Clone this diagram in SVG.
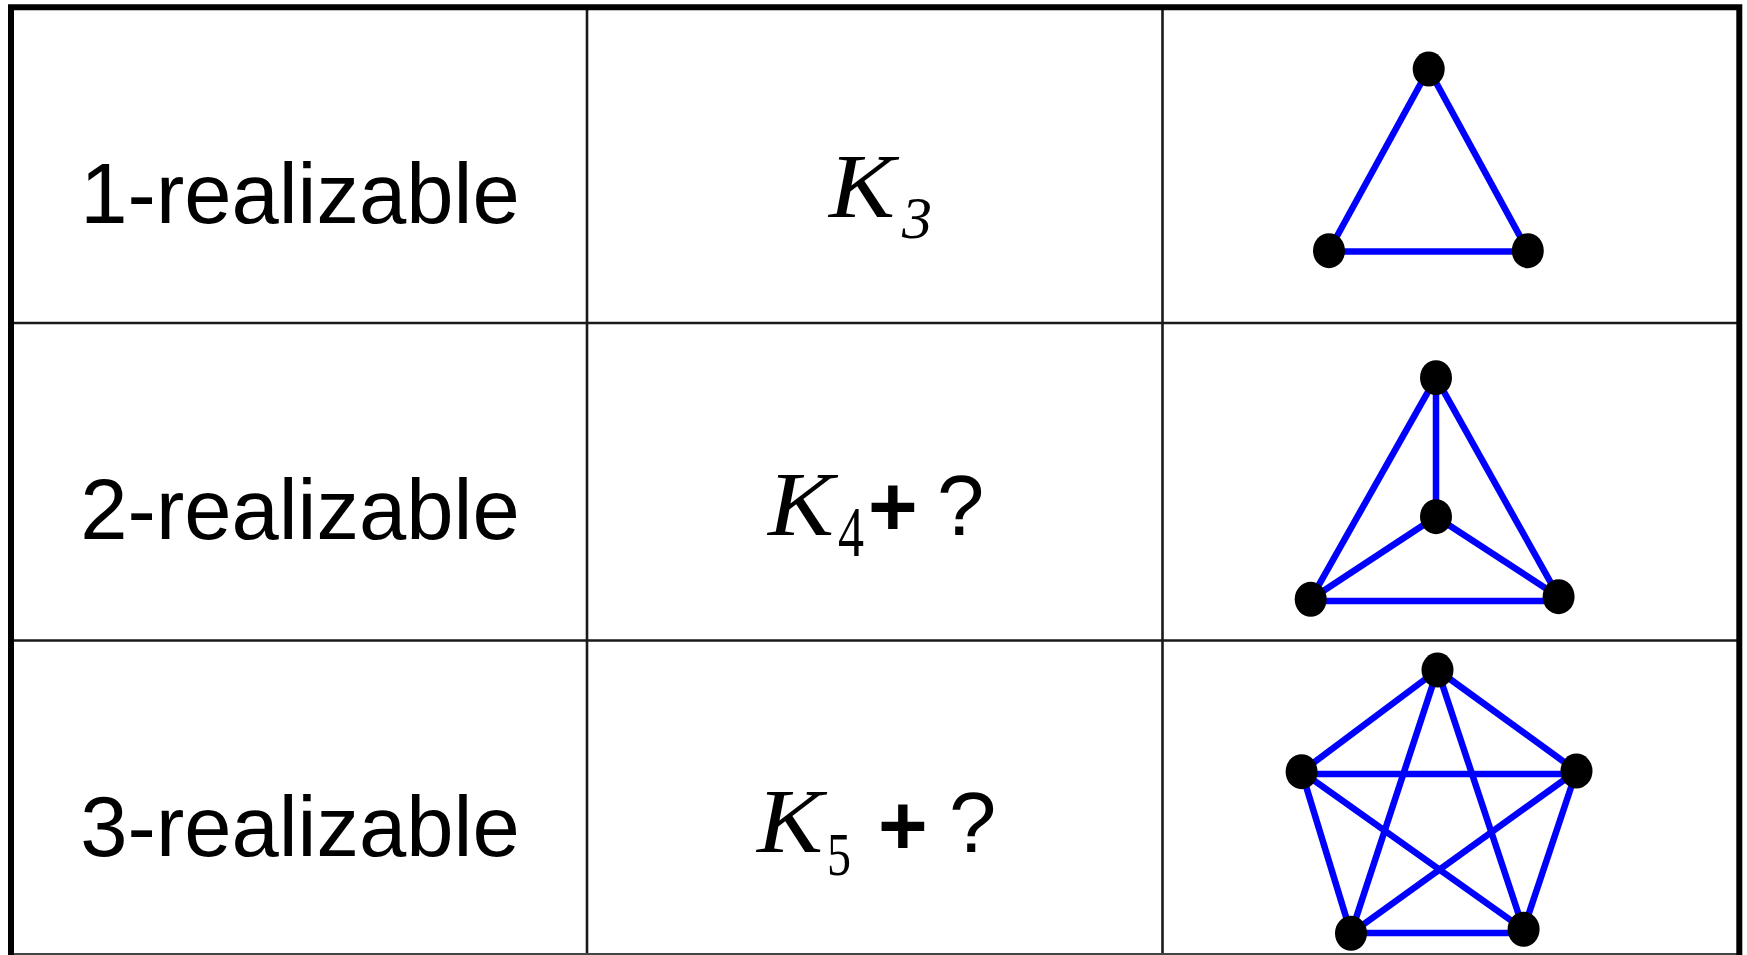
<svg xmlns="http://www.w3.org/2000/svg" width="1747" height="955" viewBox="0 0 1747 955">
<style>
.grid{stroke:#1a1a1a;stroke-width:2.6;fill:none}
.border{stroke:#000;stroke-width:6;fill:none}
.lbl{font-family:"Liberation Sans",Arial,sans-serif;font-size:85px;fill:#000}
.mk{font-family:"Liberation Serif","Times New Roman",serif;font-style:italic;font-size:92px;fill:#000}
.sub{font-family:"Liberation Serif","Times New Roman",serif;fill:#000}
.op{font-family:"Liberation Sans",Arial,sans-serif;font-size:85px;fill:#000}
.plus{font-weight:bold}
.edge{stroke:#0000ff;stroke-width:6.5;fill:none}
.v{fill:#000}
</style>
<rect x="0" y="0" width="1747" height="955" fill="#fff"/>
<g id="table">
  <line class="grid" x1="10" y1="323" x2="1739" y2="323"/>
  <line class="grid" x1="10" y1="640.5" x2="1739" y2="640.5"/>
  <line class="grid" x1="587" y1="7" x2="587" y2="955"/>
  <line class="grid" x1="1162.5" y1="7" x2="1162.5" y2="955"/>
  <line stroke="#444" stroke-width="2" x1="10" y1="954" x2="1739" y2="954"/>
  <path class="border" d="M11,955 V7.2 H1739.3 V955"/>
</g>
<g id="labels">
  <text class="lbl" x="300" y="223" text-anchor="middle">1-realizable</text>
  <text class="lbl" x="300" y="539" text-anchor="middle">2-realizable</text>
  <text class="lbl" x="300" y="856" text-anchor="middle">3-realizable</text>
</g>
<g id="formulas">
  <g id="f1">
    <text font-family="Liberation Serif, serif"><tspan class="mk" x="829" y="217" textLength="66" lengthAdjust="spacingAndGlyphs">K</tspan><tspan class="sub" font-style="italic" font-size="59" x="902" y="238" textLength="30" lengthAdjust="spacingAndGlyphs">3</tspan></text>
  </g>
  <g id="f2">
    <text font-family="Liberation Serif, serif"><tspan class="mk" x="768" y="535" textLength="66" lengthAdjust="spacingAndGlyphs">K</tspan><tspan class="sub" font-size="72" x="838" y="556" textLength="26" lengthAdjust="spacingAndGlyphs">4</tspan><tspan class="op plus" x="868" y="536">+</tspan><tspan class="op" x="937" y="535">?</tspan></text>
  </g>
  <g id="f3">
    <text font-family="Liberation Serif, serif"><tspan class="mk" x="757" y="852" textLength="66" lengthAdjust="spacingAndGlyphs">K</tspan><tspan class="sub" font-size="62" x="827" y="875" textLength="24" lengthAdjust="spacingAndGlyphs">5</tspan><tspan class="op plus" x="878" y="855">+</tspan><tspan class="op" x="949" y="852">?</tspan></text>
  </g>
</g>
<g id="connectors">
  <line class="edge" x1="1428.7" y1="69" x2="1329" y2="250.7"/>
  <line class="edge" x1="1428.7" y1="69" x2="1527.8" y2="250.7"/>
  <line class="edge" x1="1329" y1="251.5" x2="1527.8" y2="251.5"/>

  <line class="edge" x1="1436" y1="377.7" x2="1310.7" y2="599.3"/>
  <line class="edge" x1="1436" y1="377.7" x2="1558.6" y2="596.7"/>
  <line class="edge" x1="1436" y1="377.7" x2="1436" y2="516.7"/>
  <line class="edge" x1="1436" y1="516.7" x2="1310.7" y2="599.3"/>
  <line class="edge" x1="1436" y1="516.7" x2="1558.6" y2="596.7"/>
  <line class="edge" x1="1310.7" y1="601" x2="1558.6" y2="601"/>

  <line class="edge" x1="1437.5" y1="670" x2="1301.6" y2="771.7"/>
  <line class="edge" x1="1437.5" y1="670" x2="1576.5" y2="771"/>
  <line class="edge" x1="1437.5" y1="670" x2="1351" y2="933.3"/>
  <line class="edge" x1="1437.5" y1="670" x2="1523.6" y2="929.3"/>
  <line class="edge" x1="1301.6" y1="774" x2="1576.5" y2="774"/>
  <line class="edge" x1="1301.6" y1="771.7" x2="1523.6" y2="929.3"/>
  <line class="edge" x1="1301.6" y1="771.7" x2="1351" y2="933.3"/>
  <line class="edge" x1="1576.5" y1="771" x2="1351" y2="933.3"/>
  <line class="edge" x1="1576.5" y1="771" x2="1523.6" y2="929.3"/>
  <line class="edge" x1="1351" y1="933" x2="1523.6" y2="933"/>
</g>
<g id="k3-a"><ellipse class="v" cx="1428.7" cy="69" rx="16" ry="17.5"/></g>
<g id="k3-b"><ellipse class="v" cx="1329" cy="250.7" rx="16" ry="17.5"/></g>
<g id="k3-c"><ellipse class="v" cx="1527.8" cy="250.7" rx="16" ry="17.5"/></g>
<g id="k4-a"><ellipse class="v" cx="1436" cy="377.7" rx="16" ry="17.5"/></g>
<g id="k4-b"><ellipse class="v" cx="1436" cy="516.7" rx="16" ry="17.5"/></g>
<g id="k4-c"><ellipse class="v" cx="1310.7" cy="599.3" rx="16" ry="17.5"/></g>
<g id="k4-d"><ellipse class="v" cx="1558.6" cy="596.7" rx="16" ry="17.5"/></g>
<g id="k5-a"><ellipse class="v" cx="1437.5" cy="670" rx="16" ry="17.5"/></g>
<g id="k5-b"><ellipse class="v" cx="1301.6" cy="771.7" rx="16" ry="17.5"/></g>
<g id="k5-c"><ellipse class="v" cx="1576.5" cy="771" rx="16" ry="17.5"/></g>
<g id="k5-d"><ellipse class="v" cx="1351" cy="933.3" rx="16" ry="17.5"/></g>
<g id="k5-e"><ellipse class="v" cx="1523.6" cy="929.3" rx="16" ry="17.5"/></g>
</svg>
